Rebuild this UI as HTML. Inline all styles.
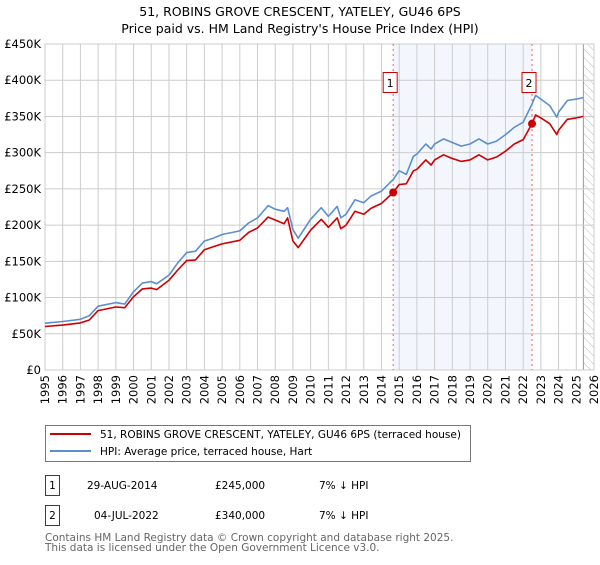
<!DOCTYPE html>
<html><head><meta charset="utf-8"><style>
body{margin:0;background:#fff}
svg text{font-family:"DejaVu Sans","Liberation Sans",sans-serif}
</style></head><body>
<svg id="c" width="600" height="560" viewBox="0 0 600 560">
<defs><pattern id="h" width="6" height="6" patternUnits="userSpaceOnUse" patternTransform="rotate(-45)"><line x1="0" y1="0" x2="0" y2="6" stroke="#bbb" stroke-width="1"/></pattern></defs>
<text x="300" y="16" text-anchor="middle" font-size="12.5">51, ROBINS GROVE CRESCENT, YATELEY, GU46 6PS</text>
<text x="300" y="33" text-anchor="middle" font-size="12.5">Price paid vs. HM Land Registry's House Price Index (HPI)</text>
<g id="plot"></g>
<g>
<rect x="45.5" y="425.5" width="425" height="36" fill="#fff" stroke="#777"/>
<line x1="50" y1="434" x2="91" y2="434" stroke="#cc0000" stroke-width="2"/>
<text x="100" y="438" font-size="10.5">51, ROBINS GROVE CRESCENT, YATELEY, GU46 6PS (terraced house)</text>
<line x1="50" y1="451" x2="91" y2="451" stroke="#5b8fd0" stroke-width="2"/>
<text x="100" y="455" font-size="10.5">HPI: Average price, terraced house, Hart</text>
</g>
<g font-size="10.5">
<rect x="45.5" y="475.5" width="14" height="20" fill="#fff" stroke="#cc0000"/><text x="52.5" y="489" text-anchor="middle">1</text>
<text x="87" y="489">29-AUG-2014</text><text x="215" y="489">£245,000</text><text x="319" y="489">7% ↓ HPI</text>
<rect x="45.5" y="505.5" width="14" height="20" fill="#fff" stroke="#cc0000"/><text x="52.5" y="519" text-anchor="middle">2</text>
<text x="94" y="519">04-JUL-2022</text><text x="215" y="519">£340,000</text><text x="319" y="519">7% ↓ HPI</text>
</g>
<text x="45" y="541" font-size="10.5" fill="#666">Contains HM Land Registry data © Crown copyright and database right 2025.</text>
<text x="45" y="551" font-size="10.5" fill="#666">This data is licensed under the Open Government Licence v3.0.</text>
</svg>
<script>
const years=[1995,1996,1997,1997.5,1998,1999,1999.5,2000,2000.5,2001,2001.3,2002,2002.5,2003,2003.5,2004,2004.5,2005,2006,2006.5,2007,2007.6,2008,2008.5,2008.7,2009,2009.3,2010,2010.6,2011,2011.5,2011.7,2012,2012.5,2013,2013.4,2014,2014.66,2015,2015.4,2015.8,2016,2016.5,2016.8,2017,2017.5,2018,2018.5,2019,2019.5,2020,2020.5,2021,2021.5,2022,2022.5,2022.7,2023,2023.5,2023.9,2024,2024.5,2025,2025.4];
const hpiValues=[64.6,67,70,75,88,93,91,108,120,122,119,131,148,162,164,178,182,187,192,203,210,227,222,219,224,194,182,208,224,212,226,210,215,235,231,240,247,263,275,270,295,298,312,305,312,319,314,309,312,319,312,316,325,335,342,367,379,374,365,349,356,372,374,376];
const priceValues=[60,62,65,69,82,87,86,101,112,113,111,124,138,151,152,166,170,174,179,190,196,211,207,202,210,178,169,193,208,197,210,195,200,219,215,223,230,245,256,257,275,277,290,283,290,297,292,288,290,297,290,294,302,312,318,340,352,348,340,325,331,346,348,350];
const yTicks=[0,50,100,150,200,250,300,350,400,450];
const yTickLabels=["£0","£50K","£100K","£150K","£200K","£250K","£300K","£350K","£400K","£450K"];
const xTicks=[1995,1996,1997,1998,1999,2000,2001,2002,2003,2004,2005,2006,2007,2008,2009,2010,2011,2012,2013,2014,2015,2016,2017,2018,2019,2020,2021,2022,2023,2024,2025,2026];
const sales=[{id:"1",year:2014.66,value:245},{id:"2",year:2022.5,value:340}];
const X0=45,X1=594,Y0=370,Y1=44;
const x=v=>X0+(v-1995)/31*(X1-X0);
const y=v=>Y0-v/450*(Y0-Y1);
const NS="http://www.w3.org/2000/svg";
const g=document.getElementById('plot');
function mk(t,a,p){const e=document.createElementNS(NS,t);for(const k in a)e.setAttribute(k,a[k]);(p||g).appendChild(e);return e;}
let sh=mk('rect',{x:x(sales[0].year),y:Y1,width:x(sales[1].year)-x(sales[0].year),height:Y0-Y1,fill:'#eef3fc',opacity:0.7});


let ht=mk('rect',{x:x(2025.4),y:Y1,width:X1-x(2025.4),height:Y0-Y1,fill:'url(#h)'});


mk('line',{x1:x(2025.4),x2:x(2025.4),y1:Y1,y2:Y0,stroke:'#999'});
yTicks.forEach((t,i)=>{
 const l=mk('line',{x1:X0,x2:X1,y1:y(t),y2:y(t),stroke:'#ccc'});
 
 
 const tx=mk('text',{x:X0-4,y:y(t)+4,'text-anchor':'end','font-size':'11.5'});
 tx.textContent=yTickLabels[i];
 
 
});
xTicks.forEach(t=>{
 const l=mk('line',{x1:x(t),x2:x(t),y1:Y1,y2:Y0,stroke:'#ccc'});
 
 
 const tx=mk('text',{x:0,y:0,'font-size':'11.5','text-anchor':'end',transform:`translate(${x(t)+4},${Y0+5}) rotate(-90)`});
 tx.textContent=t;
 
 
});
mk('rect',{x:X0,y:Y1,width:X1-X0,height:Y0-Y1,fill:'none',stroke:'#ccc'});
sales.forEach(s=>{
 const l=mk('line',{x1:x(s.year),x2:x(s.year),y1:Y1,y2:Y0,stroke:'#f06060','stroke-dasharray':'2,3'});
 
 
 const b=mk('rect',{x:x(s.year)-10,y:72.5,width:14,height:20,fill:'#fff',stroke:'#cc0000'});
 
 
 const t=mk('text',{x:x(s.year)-3,y:87,'text-anchor':'middle','font-size':'11'});
 t.textContent=s.id;
});
function path(vals,col,name){
 const d=years.map((yr,i)=>(i?'L':'M')+x(yr).toFixed(1)+','+y(vals[i]).toFixed(1)).join('');
 const p=mk('path',{d:d,fill:'none',stroke:col,'stroke-width':1.6,'stroke-linejoin':'round'});
 
 
}
path(hpiValues,'#5b8fd0','hpi-line');
path(priceValues,'#cc0000','price-paid-line');
sales.forEach(s=>{
 const c=mk('circle',{cx:x(s.year),cy:y(s.value),r:4,fill:'#cc0000'});
 
 
});
</script>
</body></html>
